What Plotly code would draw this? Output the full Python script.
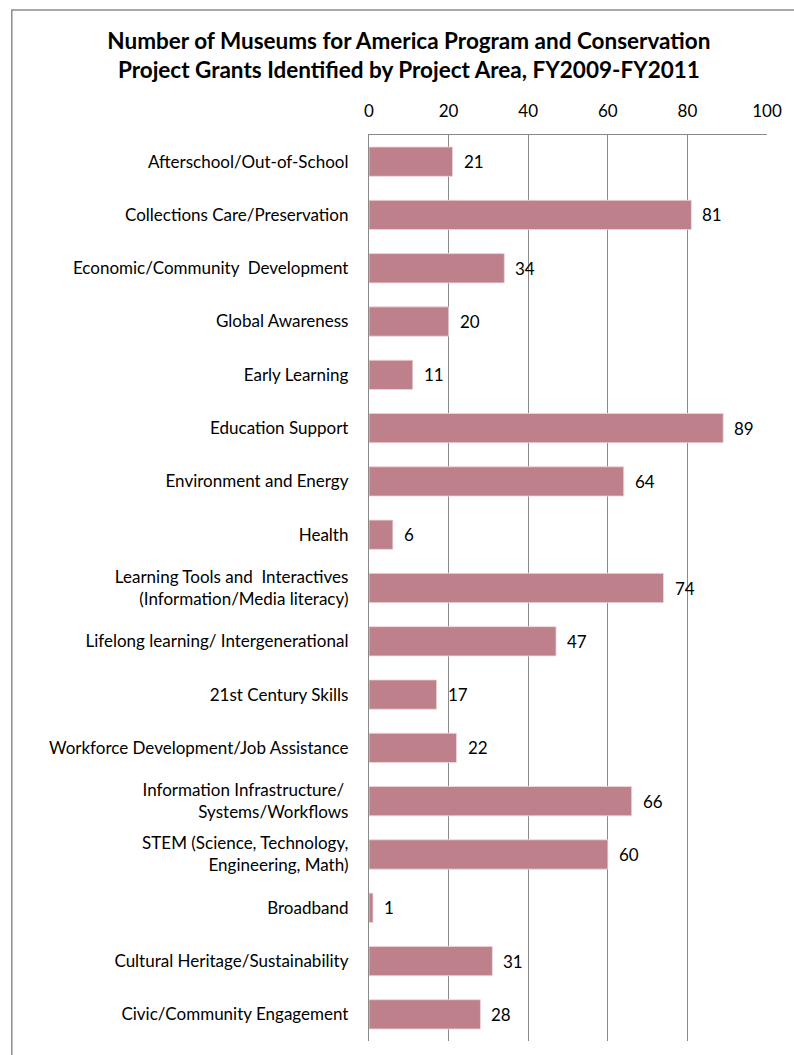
import plotly.graph_objects as go

categories = [
    "Afterschool/Out-of-School",
    "Collections Care/Preservation",
    "Economic/Community  Development",
    "Global Awareness",
    "Early Learning",
    "Education Support",
    "Environment and Energy",
    "Health",
    "Learning Tools and  Interactives<br>(Information/Media literacy)",
    "Lifelong learning/ Intergenerational",
    "21st Century Skills",
    "Workforce Development/Job Assistance",
    "Information Infrastructure/ <br>Systems/Workflows",
    "STEM (Science, Technology,<br>Engineering, Math)",
    "Broadband",
    "Cultural Heritage/Sustainability",
    "Civic/Community Engagement",
]
values = [21, 81, 34, 20, 11, 89, 64, 6, 74, 47, 17, 22, 66, 60, 1, 31, 28]
x_ticks = [0, 20, 40, 60, 80, 100]

FONT = "Lato, 'Open Sans', sans-serif"
BAR = "rgb(190,129,140)"
GRID = "#8a8a8a"
FS = 17

fig = go.Figure()
fig.add_trace(go.Bar(
    y=categories, x=values, orientation="h",
    marker=dict(color=BAR, line=dict(color="rgb(240,215,220)", width=0.8)),
    hoverinfo="x+y",
))

annotations = [
    dict(x=v, y=c, xref="x", yref="y", text=str(v), showarrow=False,
         xanchor="left", yanchor="middle", xshift=9,
         font=dict(family=FONT, size=FS, color="#000"))
    for c, v in zip(categories, values)
]

fig.update_layout(
    width=794, height=1055,
    margin=dict(l=369, r=25, t=135, b=14),
    paper_bgcolor="white", plot_bgcolor="white",
    bargap=0.45,
    showlegend=False,
    title=dict(
        text="<b>Number of Museums for America Program and Conservation<br>Project Grants Identified by Project Area, FY2009-FY2011</b>",
        x=0.515, xanchor="center", y=0.9535, yanchor="middle",
        font=dict(family=FONT, size=22.5, color="#000"),
    ),
    font=dict(family=FONT, size=FS, color="#000"),
    annotations=annotations,
    shapes=[dict(type="rect", xref="paper", yref="paper",
                 x0=(10 - 369) / 400, x1=1.2, y0=-0.2, y1=(1041 - 10) / 906,
                 line=dict(color="#8c8c8c", width=1.5), layer="below")],
)
fig.update_xaxes(
    side="top", range=[0, 100], tickvals=x_ticks,
    showgrid=True, gridcolor=GRID, gridwidth=1.3,
    showline=True, linecolor=GRID, linewidth=1.3, mirror=False,
    ticks="", ticklabelstandoff=10, tickfont=dict(family=FONT, size=FS, color="#000"),
    zeroline=False, fixedrange=True,
)
fig.update_yaxes(
    autorange="reversed", showline=True, linecolor=GRID, linewidth=1.3,
    ticks="", ticklabelstandoff=16, showgrid=False,
    tickfont=dict(family=FONT, size=FS, color="#000"),
)

fig.write_html("out.html", config={"displayModeBar": False},
               post_script="document.body.style.margin='0';")
